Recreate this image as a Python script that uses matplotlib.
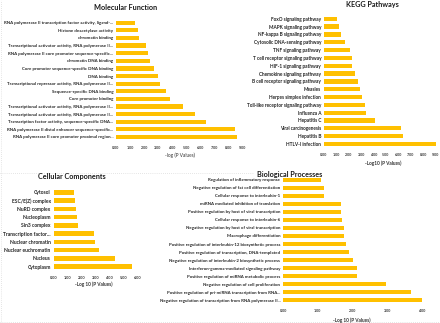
import matplotlib
matplotlib.use("Agg")
import matplotlib.pyplot as plt
from matplotlib.lines import Line2D

plt.rcParams["font.family"] = ["Lato", "DejaVu Sans"]

GOLD = "#FFC000"
W, H = 440, 323

# ---- data (top to bottom as in the figure) ----
mf_terms = [
    "RNA polymerase II transcription factor activity, ligand-...",
    "Histone deacetylase activity",
    "chromatin binding",
    "Transcriptional activator activity, RNA polymerase II...",
    "RNA polymerase II core promoter sequence-specific...",
    "chromatin DNA binding",
    "Core promoter sequence-specific DNA binding",
    "DNA binding",
    "Transcriptional repressor activity, RNA polymerase II...",
    "Sequence-specific DNA binding",
    "Core promoter binding",
    "Transcriptional activator activity, RNA polymerase II...",
    "Transcriptional activator activity, RNA polymerase II...",
    "Transcription factor activity, sequence-specific DNA...",
    "RNA polymerase II distal enhancer sequence-specific...",
    "RNA polymerase II core promoter proximal region...",
]
mf_vals = [1.33, 1.57, 1.64, 2.12, 2.26, 2.40, 2.74, 3.00, 3.12, 3.57,
           3.88, 4.81, 5.64, 6.45, 8.50, 8.64]

kegg_terms = [
    "FoxO signaling pathway", "MAPK signaling pathway", "NF-kappa B signaling pathway",
    "Cytosolic DNA-sensing pathway", "TNF signaling pathway",
    "T cell receptor signaling pathway", "HIF-1 signaling pathway",
    "Chemokine signaling pathway", "B cell receptor signaling pathway", "Measles",
    "Herpes simplex infection", "Toll-like receptor signaling pathway", "Influenza A",
    "Hepatitis C", "Viral carcinogenesis", "Hepatitis B", "HTLV-I infection",
]
kegg_vals = [1.07, 1.21, 1.38, 1.71, 2.12, 2.29, 2.29, 2.53, 2.78, 2.92,
             3.03, 3.31, 3.39, 4.08, 6.25, 6.36, 9.00]

cc_terms = [
    "Cytosol", "ESC/E(Z) complex", "NuRD complex", "Nucleoplasm", "Sin3 complex",
    "Transcription factor...", "Nuclear chromatin", "Nuclear euchromatin",
    "Nucleus", "Cytoplasm",
]
cc_vals = [1.44, 1.55, 1.60, 1.67, 1.76, 2.87, 2.96, 3.25, 4.42, 5.63]

bp_terms = [
    "Regulation of inflammatory response",
    "Negative regulation of fat cell differentiation",
    "Cellular response to interleukin-1",
    "miRNA mediated inhibition of translation",
    "Positive regulation by host of viral transcription",
    "Cellular response to interleukin-6",
    "Negative regulation by host of viral transcription",
    "Macrophage differentiation",
    "Positive regulation of interleukin-12 biosynthetic process",
    "Positive regulation of transcription, DNA-templated",
    "Negative regulation of interleukin-2 biosynthetic process",
    "Interferon-gamma-mediated signaling pathway",
    "Positive regulation of miRNA metabolic process",
    "Negative regulation of cell proliferation",
    "Positive regulation of pri-miRNA transcription from RNA...",
    "Negative regulation of transcription from RNA polymerase II...",
]
bp_vals = [1.10, 1.18, 1.19, 1.66, 1.66, 1.70, 1.76, 1.76, 1.82, 1.91,
           2.00, 2.14, 2.14, 2.96, 3.68, 4.01]


def rect(x0, x1, ytop, ybot):
    return [x0 / W, 1 - ybot / H, (x1 - x0) / W, (ybot - ytop) / H]


def panel(fig, box, terms, vals, xmax, lab_fs=3.2, tick_fs=2.6):
    ax = fig.add_axes(rect(*box))
    ax.barh(range(len(terms)), vals, height=0.55, color=GOLD)
    ax.set_yticks(range(len(terms)))
    ax.set_yticklabels(terms, fontsize=lab_fs, fontweight="bold", color="#262626")
    ax.set_ylim(len(terms) - 0.5, -0.5)
    ax.set_xlim(0, xmax)
    ax.set_xticks(range(0, xmax + 1))
    ax.set_xticklabels([f"{v:.2f}" for v in range(0, xmax + 1)],
                       fontsize=tick_fs, fontweight="bold", color="#333333")
    ax.tick_params(axis="y", length=0, pad=2)
    ax.tick_params(axis="x", length=0, pad=3.5)
    for s in ax.spines.values():
        s.set_visible(False)
    return ax


fig = plt.figure(figsize=(4.4, 3.23), dpi=100)

panel(fig, (116, 242, 18.9, 140.8), mf_terms, mf_vals, 9, lab_fs=3.2)
panel(fig, (324, 435.5, 14.8, 147.9), kegg_terms, kegg_vals, 9, lab_fs=3.4)
panel(fig, (53.5, 137.3, 188.2, 270.8), cc_terms, cc_vals, 6, lab_fs=3.6, tick_fs=2.8)
panel(fig, (283, 422, 175.7, 304.3), bp_terms, bp_vals, 4, lab_fs=3.2)


def ftext(x, y, s, **kw):
    fig.text(x / W, 1 - y / H, s, ha="center", va="center", **kw)


tkw = dict(fontsize=5.2, fontweight="bold", color="#1a1a1a")
ftext(126, 8, "Molecular Function", **tkw)
ftext(372, 5, "KEGG Pathways", **tkw)
ftext(72, 177, "Cellular Components", **tkw)
ftext(290, 174, "Biological Processes", **tkw)

xkw = dict(fontsize=3.4, color="#333333")
ftext(180, 155.5, "-log (P Values)", **xkw)
ftext(383, 163, "-Log10 (P Values)", fontweight="bold", **xkw)
ftext(94, 284, "-Log 10 (P Values)", fontweight="bold", **xkw)
ftext(352, 320.5, "-Log 10 (P Values)", fontweight="bold", **xkw)

# faint dotted chart-area borders
lkw = dict(color="#cccccc", lw=0.5, ls=(0, (1, 2)), transform=fig.transFigure)
fig.add_artist(Line2D([0.5 / W, 0.5 / W], [0, 1], **lkw))
fig.add_artist(Line2D([0, 1], [1 - 322 / H, 1 - 322 / H], **lkw))
fig.add_artist(Line2D([0, 253 / W], [1 - 173 / H, 1 - 173 / H], **lkw))

fig.savefig("out.png", dpi=100)
